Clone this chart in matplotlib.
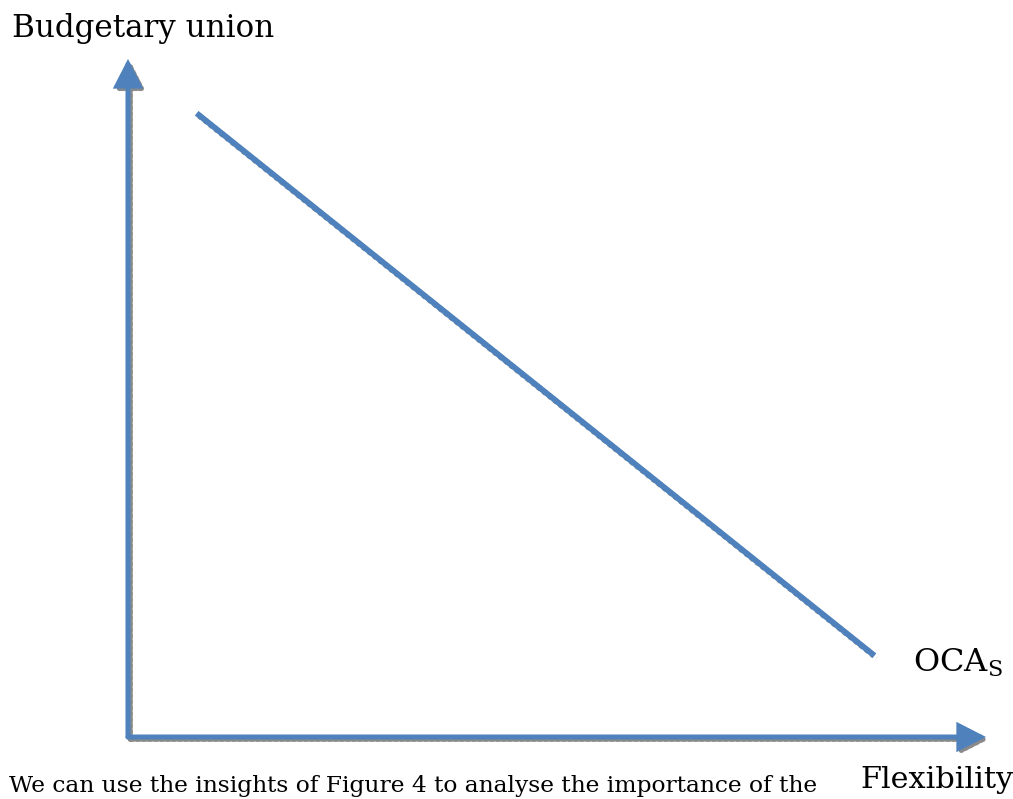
import matplotlib
matplotlib.use("Agg")
import matplotlib.pyplot as plt
from matplotlib.transforms import offset_copy

# conceptual diagram: axes run 0..10
x_axis_end = 10.0
y_axis_end = 10.0
ocas_x = [0.8, 8.7]
ocas_y = [9.2, 1.2]

y_label = "Budgetary union"
x_label = "Flexibility"
curve_label = "OCA"
curve_sub = "S"
caption = "We can use the insights of Figure 4 to analyse the importance of the"

blue = "#4F81BD"
shadow = "#8a8a8a"

plt.rcParams["font.family"] = ["DejaVu Serif"]
plt.rcParams["mathtext.fontset"] = "custom"
plt.rcParams["mathtext.rm"] = "DejaVu Serif"

W, H = 1013, 799
fig = plt.figure(figsize=(W / 100, H / 100), dpi=100)
# origin of the diagram at pixel (128, 737), arrow tips at (986, 737) and (128, 59)
ax = fig.add_axes([128 / W, (H - 737) / H, (986 - 128) / W, (737 - 59) / H])
ax.set_xlim(0, x_axis_end)
ax.set_ylim(0, y_axis_end)
ax.axis("off")

sh = offset_copy(ax.transData, fig, x=2.4, y=-2.4, units="dots")

# OCA line with its shadow
ax.plot(ocas_x, ocas_y, color=shadow, lw=4.2, ls=(0, (0.6, 0.6)),
        solid_capstyle="butt", transform=sh, clip_on=False)
ax.plot(ocas_x, ocas_y, color=blue, lw=4.2, solid_capstyle="butt", clip_on=False)

# axis arrows
arrow = "-|>,head_length=0.78,head_width=0.4"
for tip in [(x_axis_end, 0), (0, y_axis_end)]:
    ax.annotate("", xy=tip, xytext=(0, 0), xycoords=sh, textcoords=sh,
                arrowprops=dict(arrowstyle=arrow, color=shadow, lw=3.6,
                                ls=(0, (0.6, 0.6)), mutation_scale=20,
                                shrinkA=0, shrinkB=0), annotation_clip=False)
for tip in [(x_axis_end, 0), (0, y_axis_end)]:
    ax.annotate("", xy=tip, xytext=(0, 0),
                arrowprops=dict(arrowstyle=arrow, color=blue, lw=3.6,
                                mutation_scale=20, shrinkA=0, shrinkB=0,
                                joinstyle="miter"), annotation_clip=False)

fig.text(12 / W, 1 - 37 / H, y_label, fontsize=22.3, ha="left", va="baseline")
fig.text(913 / W, 1 - 672 / H, curve_label + r"$_\mathrm{" + curve_sub + "}$",
         fontsize=23, ha="left", va="baseline")
fig.text(860 / W, 1 - 788 / H, x_label, fontsize=21.8, ha="left", va="baseline")
cap = fig.text(817 / W, 1 - 792 / H, caption, fontsize=20, ha="right", va="baseline")

# shrink the caption so it spans the same width as in the source page
r = fig.canvas.get_renderer()
w = cap.get_window_extent(r).width
cap.set_fontsize(20 * 810 / w)

fig.savefig("out.png", dpi=100)
